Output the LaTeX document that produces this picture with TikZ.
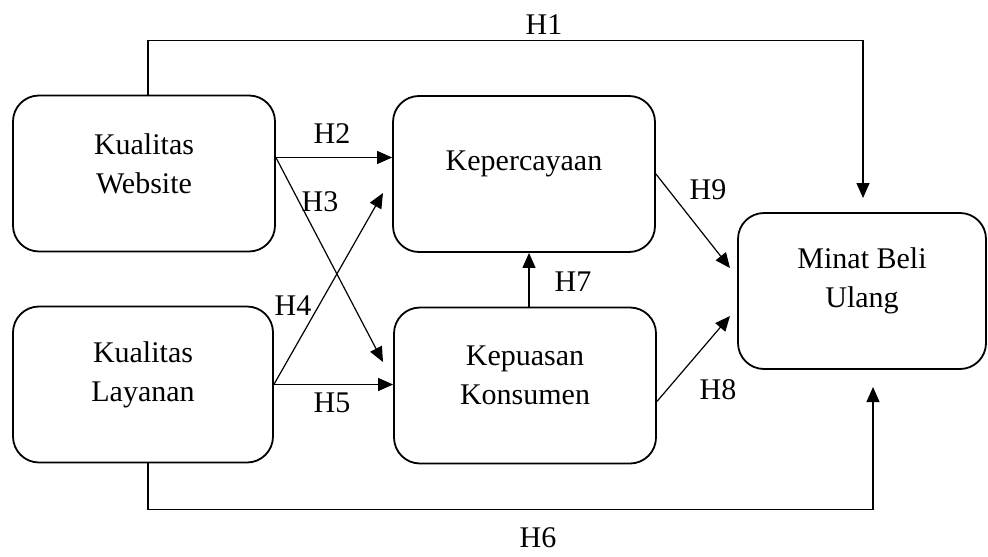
\documentclass[tikz,border=0pt]{standalone}
\usepackage{fontspec}
\setmainfont{Liberation Serif}
\usetikzlibrary{arrows.meta}

\begin{document}
\begin{tikzpicture}[x=0.5pt,y=-0.5pt,
  varbox/.style={draw, rectangle, rounded corners=13pt, line width=0.9pt,
    inner sep=0pt, minimum width=131pt, minimum height=78pt},
  vartext/.style={align=center, font=\fontsize{15}{19.5}\selectfont},
  hyp/.style={inner sep=0pt, font=\fontsize{15}{18}\selectfont},
  arr/.style={line width=0.6pt, -{Triangle[length=7.5pt,width=6.5pt]}}]

\useasboundingbox (0,0) rectangle (988,556);

 \node[varbox] (kw) at (144,173.5) {};
 \node[vartext] (kwt) at ([yshift=5pt]kw.center) {Kualitas\\Website};

 \node[varbox, minimum width=130pt] (kl) at (143,384.5) {};
 \node[vartext] (klt) at ([yshift=5pt]kl.center) {Kualitas\\Layanan};

 \node[varbox] (kp) at (524,174) {};
 \node[vartext] (kpt) at ([yshift=5pt]kp.center) {Kepercayaan};

 \node[varbox] (ks) at (525,385.5) {};
 \node[vartext] (kst) at ([yshift=5pt]ks.center) {Kepuasan\\Konsumen};

 \node[varbox, minimum width=124pt] (mb) at (862,291) {};
 \node[vartext] (mbt) at ([yshift=5pt]mb.center) {Minat Beli\\Ulang};

% free arrow ends
\coordinate (e1) at (863,198);
\coordinate (e3) at (383,362);
\coordinate (e4) at (383,193);
\coordinate (e6) at (873,387);
\coordinate (e8) at (730,316);
\coordinate (e9) at (730,268);

\draw [arr] ([xshift=2pt]kw.north) -- ++(0,-54) -| (e1);
\draw [arr] ([yshift=8pt]kw.east) -- ([yshift=8pt]kw.east -| kp.west);
\draw [arr] ([yshift=8pt]kw.east) -- (e3);
\draw [arr] (kl.east) -- (e4);
\draw [arr] (kl.east) -- (kl.east -| ks.west);
\draw [arr] ([xshift=2.5pt]kl.south) -- ++(0,46) -| (e6);
\draw [arr] ([xshift=2pt]ks.north) -- ([xshift=2pt]ks.north |- kp.south);
\draw [arr] ([yshift=-8pt]ks.east) -- (e8);
\draw [arr] (kp.east) -- (e9);

 \node[hyp] (h1) at (544,25) {H1};
 \node[hyp] (h2) at (332,134) {H2};
 \node[hyp] (h3) at (320,202) {H3};
 \node[hyp] (h4) at (293,306) {H4};
 \node[hyp] (h5) at (332,403) {H5};
 \node[hyp] (h6) at (538,538) {H6};
 \node[hyp] (h7) at (573,282) {H7};
 \node[hyp] (h8) at (718,390) {H8};
 \node[hyp] (h9) at (708,190) {H9};

\end{tikzpicture}
\end{document}
